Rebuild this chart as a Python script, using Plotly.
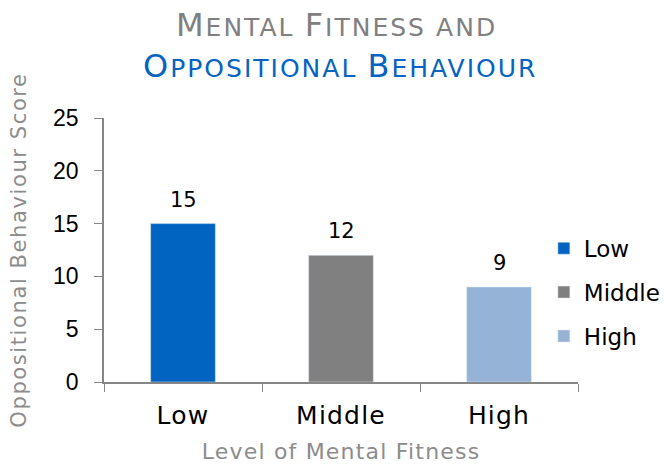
import plotly.graph_objects as go

categories = ["Low", "Middle", "High"]
scores = [15, 12, 9]
colors = ["#0064C0", "#808080", "#95B3D7"]
y_ticks = [0, 5, 10, 15, 20, 25]

FONT = "DejaVu Sans"


def spaced(text, px):
    return "<span style='letter-spacing:%.1fpx'>%s</span>" % (px, text)


fig = go.Figure()
for cat, val, col in zip(categories, scores, colors):
    fig.add_trace(go.Bar(
        x=[cat], y=[val], name=cat, marker_color=col, width=0.41,
        legendgroup=cat, showlegend=True, hoverinfo="skip",
    ))
    fig.add_annotation(x=cat, y=val, text=str(val), showarrow=False,
                       yanchor="bottom", yshift=10,
                       font=dict(family=FONT, size=21, color="#000000"))


def small_caps(text, small, ls):
    out = []
    for word in text.split(" "):
        if word[0].isupper():
            out.append("<span style='letter-spacing:%.1fpx'>%s</span>" % (ls, word[0]) +
                       "<span style='font-size:%dpx;letter-spacing:%.1fpx'>%s</span>" % (small, ls, word[1:].upper()))
        else:
            out.append("<span style='font-size:%dpx;letter-spacing:%.1fpx'>%s</span>" % (small, ls, word.upper()))
    return " ".join(out)


fig.add_annotation(xref="paper", yref="paper", x=0.5, y=1.352, yanchor="middle", xshift=-5,
                   text=small_caps("Mental Fitness and", 25, 2), showarrow=False,
                   font=dict(family=FONT, size=32, color="#808080"))
fig.add_annotation(xref="paper", yref="paper", x=0.5, y=1.197, yanchor="middle", xshift=-1,
                   text=small_caps("Oppositional Behaviour", 25, 2), showarrow=False,
                   font=dict(family=FONT, size=32, color="#0563C1"))

fig.update_layout(
    width=664, height=464,
    margin=dict(l=104, r=86, t=118, b=82, autoexpand=False),
    paper_bgcolor="white", plot_bgcolor="white",
    barmode="overlay",
    showlegend=True,
    legend=dict(x=0.928, y=0.34, xanchor="left", yanchor="middle",
                font=dict(family=FONT, size=23, color="#000000"),
                tracegroupgap=11, itemwidth=30, bgcolor="rgba(0,0,0,0)"),
    xaxis=dict(
        categoryorder="array", categoryarray=categories,
        tickvals=categories, ticktext=[spaced(c, 1.2) for c in categories],
        showline=True, linecolor="#868686", linewidth=1.5,
        ticks="outside", tickson="boundaries", ticklen=8, tickcolor="#868686",
        ticklabelstandoff=10,
        tickfont=dict(family=FONT, size=25, color="#000000"),
        title=dict(text=spaced("Level of Mental Fitness", 1.2), standoff=19,
                   font=dict(family=FONT, size=22, color="#8C8C8C")),
        showgrid=False, fixedrange=True,
    ),
    yaxis=dict(
        range=[0, 25], tickvals=y_ticks,
        showline=True, linecolor="#868686", linewidth=1.5,
        ticks="outside", ticklen=8, tickcolor="#868686",
        ticklabelstandoff=11,
        tickfont=dict(family="Liberation Sans", size=23, color="#000000"),
        title=dict(text=spaced("Oppositional Behaviour Score", 1.6), standoff=21,
                   font=dict(family=FONT, size=21, color="#8C8C8C")),
        showgrid=False, zeroline=False, fixedrange=True,
    ),
)

fig.write_html("out.html", config={"displayModeBar": False},
               post_script="document.body.style.margin='0';document.body.style.overflow='hidden';")
